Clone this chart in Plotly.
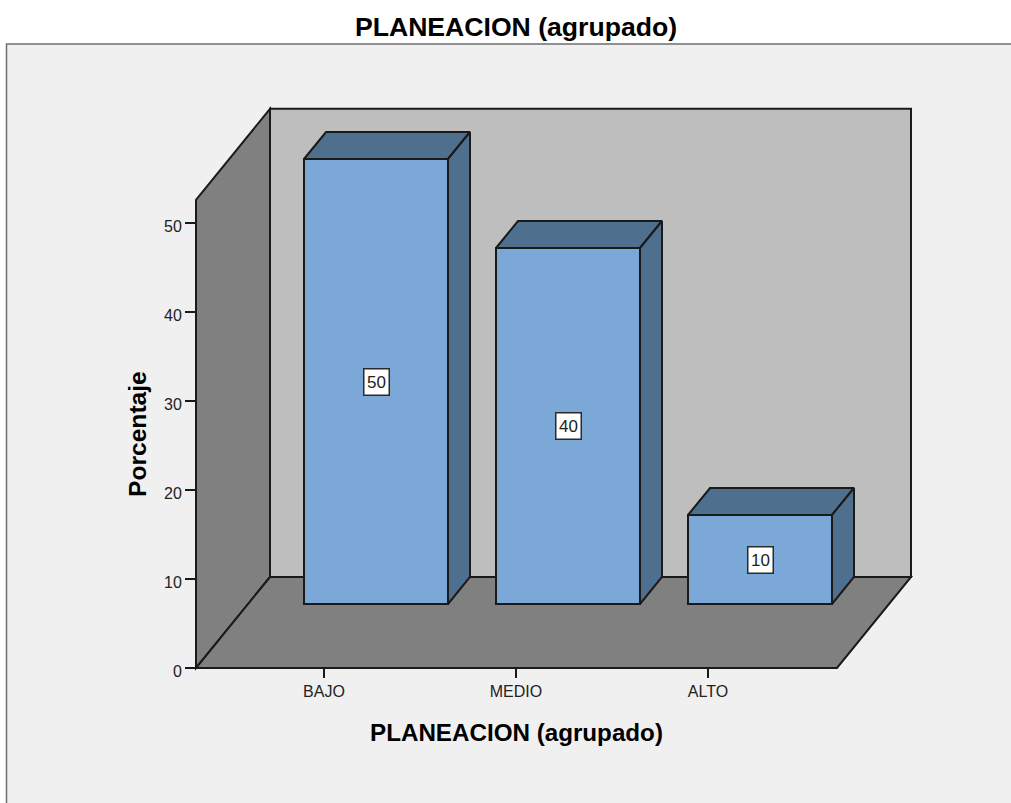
import plotly.graph_objects as go

categories = ["BAJO", "MEDIO", "ALTO"]
values = [50, 40, 10]
y_ticks = [0, 10, 20, 30, 40, 50]
title_text = "PLANEACION (agrupado)"
y_title = "Porcentaje"

W, H = 1011, 803
FONT = "Liberation Sans"
INK = "#1a1a1a"
PX_X = 192.0   # pixels per category
PX_Y = 8.9     # pixels per percent
X0_PX, Y0_PX = 324.0, 668.0

x_range = [-X0_PX / PX_X, (W - X0_PX) / PX_X]
y_range = [-(H - Y0_PX) / PX_Y, Y0_PX / PX_Y]

# 3D projection, in axis units
wall_dx, wall_dy = 74 / PX_X, 91 / PX_Y
floor_l, floor_r = -128 / PX_X, 513 / PX_X
wall_top = 52.6
bar_shift, bar_base = 52 / PX_X, 64 / PX_Y
bar_dx, bar_dy = 22 / PX_X, 27 / PX_Y
bar_w = 0.75


def poly(pts, fill, line=INK, lw=2):
    path = "M " + " L ".join(f"{a},{b}" for a, b in pts) + " Z"
    return dict(type="path", path=path, xref="x", yref="y", layer="below",
                fillcolor=fill, line=dict(color=line, width=lw))


back_top = wall_top + wall_dy
shapes = [
    dict(type="rect", xref="paper", yref="paper", x0=6.5 / W, x1=1.01,
         y0=-0.01, y1=1 - 44 / H, layer="below", fillcolor="#f0f0f0",
         line=dict(color="#6e6e6e", width=1.5)),
    poly([(floor_l + wall_dx, wall_dy), (floor_r + wall_dx, wall_dy),
          (floor_r + wall_dx, back_top), (floor_l + wall_dx, back_top)], "#bebebe"),
    poly([(floor_l, 0), (floor_l + wall_dx, wall_dy),
          (floor_l + wall_dx, back_top), (floor_l, wall_top)], "#808080"),
    poly([(floor_l, 0), (floor_r, 0),
          (floor_r + wall_dx, wall_dy), (floor_l + wall_dx, wall_dy)], "#808080"),
]

fig = go.Figure()

xs = [i + bar_shift for i in range(len(categories))]
fig.add_trace(go.Bar(x=xs, y=values, base=bar_base, width=bar_w,
                     marker=dict(color="#7ba8d6", line=dict(color=INK, width=2)),
                     hoverinfo="skip", showlegend=False))

for xc, v in zip(xs, values):
    l, r = xc - bar_w / 2, xc + bar_w / 2
    top = bar_base + v
    fig.add_trace(go.Scatter(
        x=[l, r, r + bar_dx, l + bar_dx, l],
        y=[top, top, top + bar_dy, top + bar_dy, top],
        mode="lines", fill="toself", fillcolor="#4f6f8f",
        line=dict(color=INK, width=2), hoverinfo="skip", showlegend=False))
    fig.add_trace(go.Scatter(
        x=[r, r + bar_dx, r + bar_dx, r, r],
        y=[top, top + bar_dy, bar_base + bar_dy, bar_base, top],
        mode="lines", fill="toself", fillcolor="#4f6f8f",
        line=dict(color=INK, width=2), hoverinfo="skip", showlegend=False))

annotations = [
    dict(x=xc, y=bar_base + v / 2, text=str(v), showarrow=False,
         font=dict(family=FONT, size=17, color="#222222"),
         width=24, height=25, align="center", valign="middle",
         bgcolor="white", bordercolor="#2a2a2a", borderwidth=1.5, borderpad=0)
    for xc, v in zip(xs, values)
]
annotations += [
    dict(xref="paper", yref="paper", x=516 / W, y=1 - 732 / H, showarrow=False,
         text=f"<b>{title_text}</b>", xanchor="center", yanchor="middle",
         font=dict(family=FONT, size=24.2, color="#000000")),
    dict(xref="paper", yref="paper", x=137 / W, y=1 - 434 / H, showarrow=False,
         text=f"<b>{y_title}</b>", textangle=-90, xanchor="center", yanchor="middle",
         font=dict(family=FONT, size=24.6, color="#000000")),
]

fig.update_layout(
    width=W, height=H, margin=dict(l=0, r=0, t=0, b=0),
    paper_bgcolor="white", plot_bgcolor="rgba(0,0,0,0)",
    shapes=shapes, annotations=annotations, showlegend=False,
    title=dict(text=f"<b>{title_text}</b>", x=516 / W, xanchor="center",
               y=1 - 27 / H, yanchor="middle",
               font=dict(family=FONT, size=26.6, color="#000000")),
    xaxis=dict(range=x_range, domain=[0, 1], anchor="free",
               position=(H - Y0_PX) / H,
               tickmode="array", tickvals=list(range(len(categories))),
               ticktext=categories, ticks="outside", ticklen=9, tickwidth=2,
               tickcolor=INK, showgrid=False, zeroline=False, showline=False,
               tickfont=dict(family=FONT, size=16, color="#222222")),
    yaxis=dict(range=y_range, domain=[0, 1], anchor="free",
               position=196 / W,
               tickmode="array", tickvals=y_ticks, ticks="outside", ticklen=11,
               tickwidth=2, tickcolor=INK, showgrid=False, zeroline=False,
               showline=False, ticklabelshift=3,
               tickfont=dict(family=FONT, size=16, color="#222222")),
)

fig.write_html("out.html",
               post_script="document.body.style.margin='0';document.body.style.overflow='hidden';",
               config=dict(displayModeBar=False))
